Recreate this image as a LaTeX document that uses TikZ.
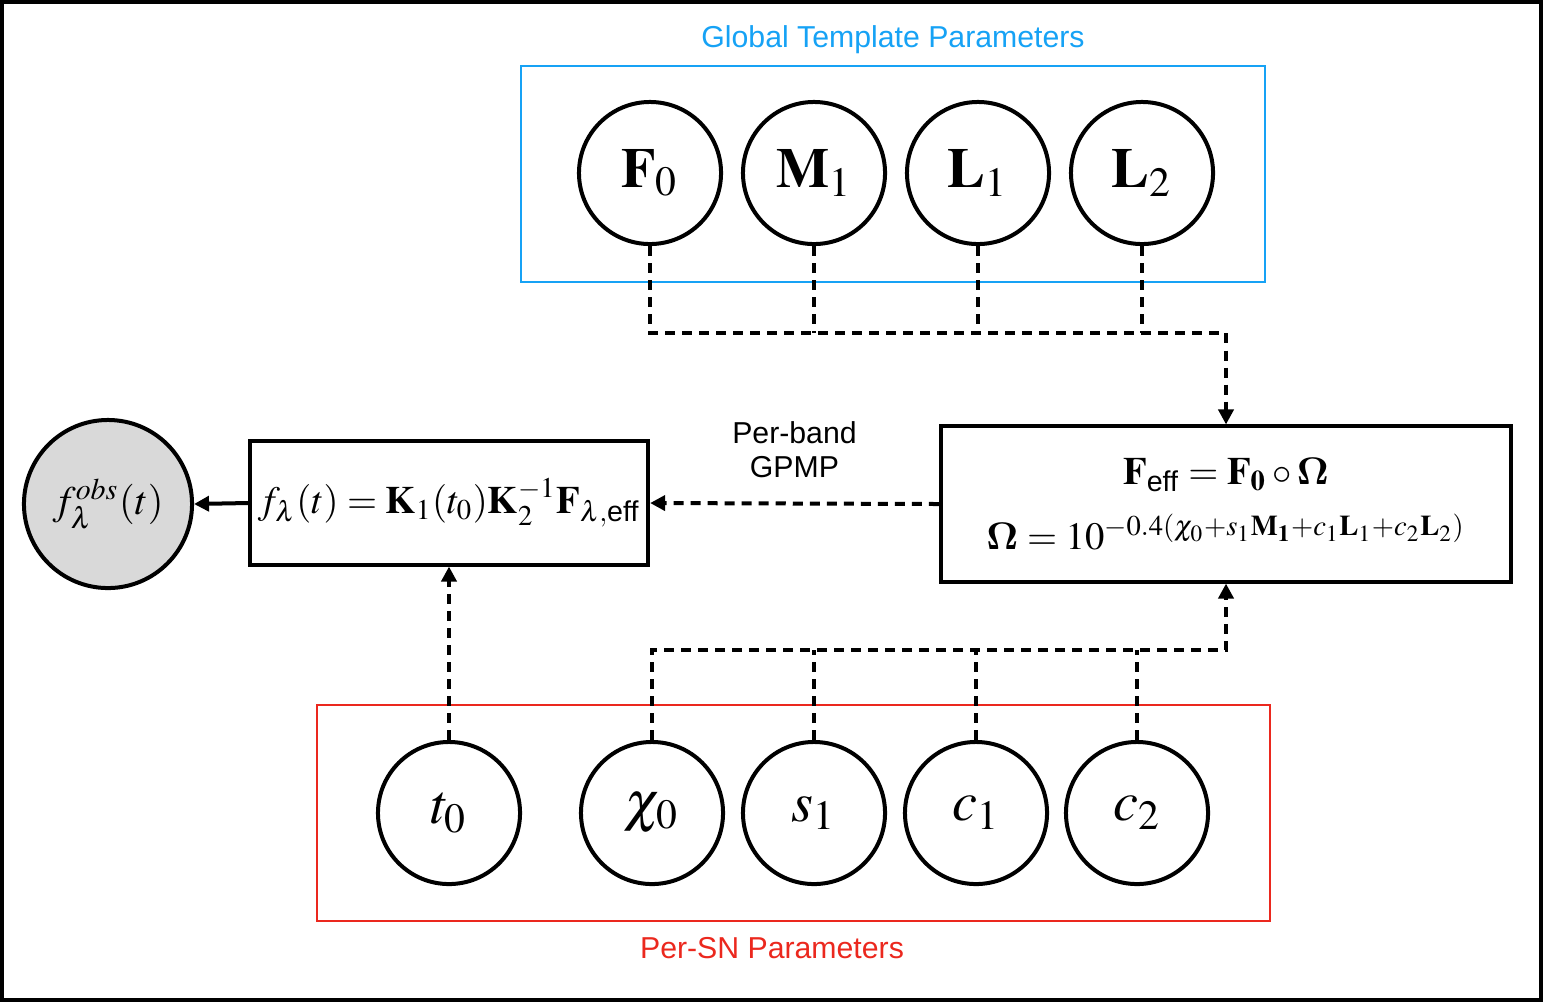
\documentclass[tikz,border=0pt]{standalone}
\usepackage{amsmath}
\usepackage{bm}
\usepackage{mathptmx}
\usepackage[no-math]{fontspec}
\setsansfont{Liberation Sans}
\usepackage{tikz}
\usetikzlibrary{positioning,arrows.meta}
\tikzstyle{canvas} = [x = 0.01cm, y = -0.01cm]
\definecolor{globalColor}{RGB}{22,162,245}
\definecolor{snColor}{RGB}{235,40,30}
\definecolor{obsFill}{RGB}{217,217,217}
\tikzstyle{paramNode} = [circle, draw=black, line width=0.04cm, minimum size=1.42cm, inner sep=0pt, font=\fontsize{16}{19}\selectfont]
\tikzstyle{obsNode} = [paramNode, fill=obsFill, minimum size=1.68cm, font=\fontsize{11.5}{14}\selectfont]
\tikzstyle{eqBox} = [rectangle, draw=black, line width=0.04cm, align=center, inner sep=0pt, font=\fontsize{11}{13}\selectfont]
\tikzstyle{plateLine} = [line width=0.025cm]
\tikzstyle{plateLabel} = [font=\sffamily\fontsize{8.6}{9.8}\selectfont]
\tikzstyle{depLine} = [line width=0.04cm, dash pattern=on 0.1cm off 0.07cm]
\tikzstyle{depArrow} = [depLine, -{Triangle[length=0.15cm, width=0.15cm]}]
\tikzstyle{obsArrow} = [line width=0.04cm, -{Triangle[length=0.15cm, width=0.15cm]}]
\newcommand{\paramCircle}[3]{\node [paramNode] (#1) at (#2) {$#3$};}
\newcommand{\eff}{\textsf{eff}}

\begin{document}
\begin{tikzpicture}[canvas]
  \useasboundingbox (0,0) rectangle (1543,1002);
  \draw [line width=0.04cm] (2,2) rectangle (1541,1000);
  % global plate
  \draw [plateLine, color=globalColor] (521,66) rectangle (1265,282);
  \node [plateLabel, text=globalColor] (globalLabel) at (893,40) {Global Template Parameters};
  \paramCircle{F0}{650,173}{\mathbf{F}_0}
  \paramCircle{M1}{814,173}{\mathbf{M}_1}
  \paramCircle{L1}{978,173}{\mathbf{L}_1}
  \paramCircle{L2}{1142,173}{\mathbf{L}_2}
  % per-SN plate
  \draw [plateLine, color=snColor] (317,705) rectangle (1270,921);
  \node [plateLabel, text=snColor] (snLabel) at (772,948) {Per-SN Parameters};
  \paramCircle{t0}{449,813}{t_0}
  \paramCircle{chi0}{652,813}{\chi_0}
  \paramCircle{s1}{814,813}{s_1}
  \paramCircle{c1}{976,813}{c_1}
  \paramCircle{c2}{1137,813}{c_2}
  % equations
  \node [eqBox, minimum width=5.7cm, minimum height=1.55cm] (feff) at (1226,504)
    {$\mathbf{F}_{\eff} = \mathbf{F_0} \circ \bm{\Omega}$\\[0.2cm]
     $\bm{\Omega} = 10^{-0.4\left(\chi_0 + s_1\mathbf{M_1} + c_1\mathbf{L}_1 + c_2\mathbf{L}_2\right)}$};
  \node [eqBox, minimum width=3.98cm, minimum height=1.23cm] (fband) at (449,503)
    {$f_\lambda(t) = \mathbf{K}_1(t_0)\mathbf{K}_2^{-1}\mathbf{F}_{\lambda,\eff}$};
  \node [obsNode] (obs) at (108,504) {$f_\lambda^{obs}(t)$};
  % connectors
  \coordinate (topJoin) at (1226,333);
  \coordinate (botJoin) at (1226,650);
  \draw [depArrow] (F0.south) |- (topJoin) -- (feff.north);
  \foreach \p in {M1,L1,L2}
    \draw [depLine] (\p.south) -- (\p.south |- topJoin);
  \draw [depArrow] (chi0.north) |- (botJoin) -- (feff.south);
  \foreach \p in {s1,c1,c2}
    \draw [depLine] (\p.north) -- (\p.north |- botJoin);
  \draw [depArrow] (t0.north) -- (fband.south);
  \draw [depArrow] (feff.west) -- node [above=0.12cm, align=center, plateLabel] (gpmpLabel) {Per-band\\GPMP} (fband.east);
  \draw [obsArrow] (fband.west) -- (obs.east);
\end{tikzpicture}
\end{document}
